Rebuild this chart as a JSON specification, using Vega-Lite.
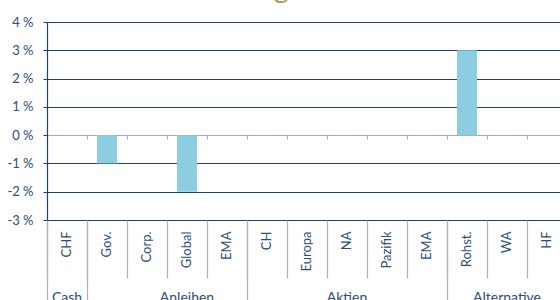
{
  "$schema": "https://vega.github.io/schema/vega-lite/v6.json",
  "width": 520,
  "height": 198,
  "autosize": {"type": "none"},
  "padding": {"left": 47, "top": 22, "right": -7, "bottom": 80},
  "title": {"text": "Taktische Gewichtung", "anchor": "start", "frame": "group", "orient": "top", "offset": -11, "dx": -38, "baseline": "alphabetic", "fontSize": 29, "font": "Lato", "fontWeight": "normal", "color": "#a99b63"},
  "config": {"view": {"stroke": null}, "font": "Lato"},
  "data": {"values": [
    {"cat": "CHF", "value": 0},
    {"cat": "Gov.", "value": -1},
    {"cat": "Corp.", "value": 0},
    {"cat": "Global", "value": -2},
    {"cat": "EMA_A", "value": 0},
    {"cat": "CH", "value": 0},
    {"cat": "Europa", "value": 0},
    {"cat": "NA", "value": 0},
    {"cat": "Pazifik", "value": 0},
    {"cat": "EMA_E", "value": 0},
    {"cat": "Rohst.", "value": 3},
    {"cat": "WA", "value": 0},
    {"cat": "HF", "value": 0}
  ]},
  "resolve": {"axis": {"x": "independent", "y": "independent"}},
  "layer": [
    {
      "mark": {"type": "bar", "color": "#8dcde2", "width": {"band": 0.5}},
      "encoding": {
        "x": {"field": "cat", "type": "nominal", "sort": null,
          "scale": {"paddingInner": 0, "paddingOuter": 0},
          "axis": {"title": null, "orient": "bottom", "domain": false, "ticks": false, "grid": false,
            "labelAngle": -90, "labelAlign": "right", "labelBaseline": "middle", "labelPadding": 11, "labelExpr": "split(datum.label, '_')[0]",
            "labelColor": "#2b4c7e", "labelFontSize": 13, "labelFont": "Lato"}},
        "y": {"field": "value", "type": "quantitative",
          "scale": {"domain": [-3, 4], "nice": false, "zero": false},
          "axis": {"title": null, "orient": "left", "values": [-3, -2, -1, 0, 1, 2, 3, 4], "labelExpr": "datum.value + ' %'",
            "labelColor": "#2b4c7e", "labelFontSize": 13, "labelFont": "Lato", "labelPadding": 10,
            "tickSize": 4, "tickColor": "#1f3f70", "domainColor": "#1f3f70", "domainWidth": 1.2,
            "grid": true, "gridWidth": 1.2,
            "gridColor": {"condition": {"test": "datum.value === 0", "value": "#a3aab9"}, "value": "#1f3f70"}}}
      }
    },
    {
      "mark": {"type": "bar", "opacity": 0},
      "encoding": {
        "x": {"field": "cat", "type": "nominal", "sort": null,
          "axis": {"title": null, "orient": "bottom", "labels": false, "domain": false, "ticks": true, "grid": false,
            "bandPosition": 0, "tickSize": 58, "tickColor": "#a9b1c2", "tickWidth": 1.2}},
        "y": {"field": "value", "type": "quantitative", "axis": null}
      }
    },
    {
      "mark": {"type": "bar", "opacity": 0},
      "encoding": {
        "x": {"field": "cat", "type": "nominal", "sort": null,
          "axis": {"title": null, "orient": "bottom", "labels": false, "domain": false, "ticks": true, "grid": false,
            "values": ["CHF", "Gov.", "CH", "Rohst."],
            "bandPosition": 0, "tickSize": 90, "tickColor": "#a9b1c2", "tickWidth": 1.2}},
        "y": {"field": "value", "type": "quantitative", "axis": null}
      }
    },
    {
      "mark": {"type": "bar", "opacity": 0},
      "encoding": {
        "x": {"field": "cat", "type": "nominal", "sort": null,
          "axis": {"title": null, "orient": "bottom", "domain": false, "ticks": false, "grid": false,
            "values": ["CHF", "NA", "WA"],
            "labelExpr": "datum.label === 'CHF' ? 'Cash' : datum.label === 'NA' ? 'Aktien' : 'Alternative'",
            "labelAngle": 0, "labelAlign": "center", "labelBaseline": "top", "labelPadding": 70,
            "labelColor": "#2b4c7e", "labelFontSize": 14, "labelFont": "Lato"}},
        "y": {"field": "value", "type": "quantitative", "axis": null}
      }
    },
    {
      "mark": {"type": "bar", "opacity": 0},
      "encoding": {
        "x": {"field": "cat", "type": "nominal", "sort": null,
          "axis": {"title": null, "orient": "bottom", "domain": false, "ticks": false, "grid": false,
            "values": ["Global"], "bandPosition": 0,
            "labelExpr": "'Anleihen'",
            "labelAngle": 0, "labelAlign": "center", "labelBaseline": "top", "labelPadding": 70,
            "labelColor": "#2b4c7e", "labelFontSize": 14, "labelFont": "Lato"}},
        "y": {"field": "value", "type": "quantitative", "axis": null}
      }
    },
    {
      "mark": {"type": "bar", "opacity": 0},
      "encoding": {
        "x": {"field": "cat", "type": "nominal", "sort": null,
          "axis": {"title": null, "orient": "bottom", "labels": false, "domain": false, "ticks": true, "grid": false,
            "bandPosition": 0, "tickSize": 4, "tickColor": "#a3aab9", "offset": -85}},
        "y": {"field": "value", "type": "quantitative", "axis": null}
      }
    }
  ]
}
